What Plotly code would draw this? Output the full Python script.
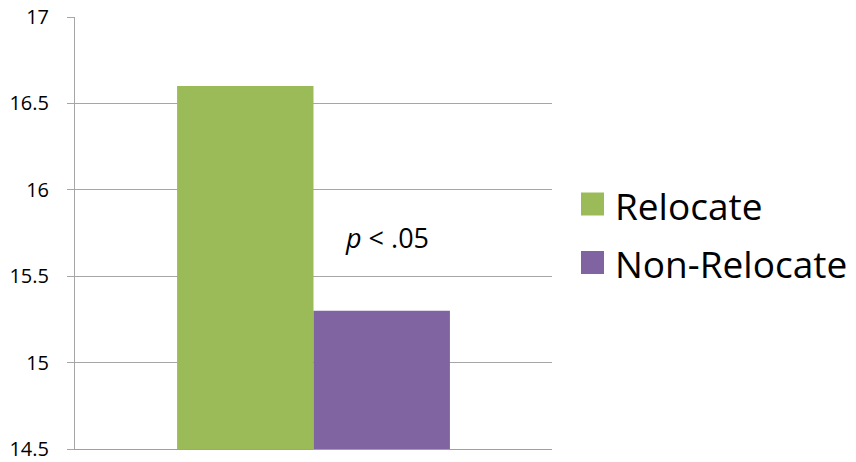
import plotly.graph_objects as go

categories = [""]
series_names = ["Relocate", "Non-Relocate"]
series_values = [[16.6], [15.3]]
series_colors = ["#9BBB59", "#8064A2"]
y_ticks = [14.5, 15, 15.5, 16, 16.5, 17]
y_tick_labels = ["14.5", "15", "15.5", "16", "16.5", "17"]
annotation_text = "<i>p</i> < .05"

W, H = 856, 462
L, R, T, B = 75, 552, 17, 449
pw, ph = R - L, B - T

def px(x):
    return (x - L) / pw

def py(y):
    return (B - y) / ph

fig = go.Figure()
for name, vals, col in zip(series_names, series_values, series_colors):
    fig.add_trace(go.Bar(x=categories, y=vals, name=name, marker_color=col,
                         marker_line_width=0, showlegend=False))

FONT = "Open Sans"
shapes = []
annotations = []
legend_rows = [204, 262.5]
for name, col, cy in zip(series_names, series_colors, legend_rows):
    shapes.append(dict(type="rect", xref="paper", yref="paper",
                       x0=px(581), x1=px(604), y0=py(cy + 11.5), y1=py(cy - 11.5),
                       fillcolor=col, line_width=0))
    annotations.append(dict(xref="paper", yref="paper", x=px(613), y=py(cy + 1),
                            text=name, showarrow=False, xanchor="left", yanchor="middle",
                            font=dict(family=FONT, size=37, color="#000000")))

annotations.append(dict(xref="paper", yref="paper", x=px(387), y=py(237),
                        text=annotation_text, showarrow=False, xanchor="center",
                        yanchor="middle", font=dict(family=FONT, size=27, color="#000000")))

fig.update_layout(
    width=W, height=H,
    margin=dict(l=L, r=W - R, t=T, b=H - B, pad=0, autoexpand=False),
    paper_bgcolor="white", plot_bgcolor="white",
    barmode="group", bargap=0.428, bargroupgap=0,
    font=dict(family=FONT, size=20, color="#000000"),
    shapes=shapes, annotations=annotations,
    xaxis=dict(showticklabels=False, showgrid=False, showline=True, automargin=False,
               linecolor="#A0A0A0", linewidth=1, ticks="", zeroline=False),
    yaxis=dict(range=[14.5, 17], tickvals=y_ticks, ticktext=y_tick_labels,
               showgrid=True, gridcolor="#A6A6A6", gridwidth=1, automargin=False,
               showline=True, linecolor="#A6A6A6", linewidth=1,
               ticks="outside", ticklen=7, tickcolor="#A6A6A6",
               ticklabelstandoff=14, zeroline=False,
               tickfont=dict(family=FONT, size=20, color="#000000")),
)

fig.write_html("out.html")
